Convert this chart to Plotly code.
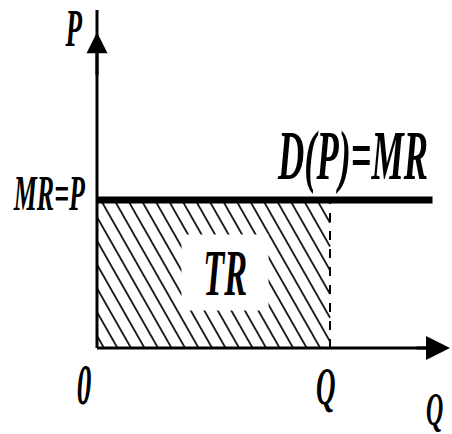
import numpy as np
import plotly.graph_objects as go

# ---- data (economic units) ----
price = 1.0          # MR = P level
quantity = 1.0       # Q sold
demand_end = 1.44    # right end of the horizontal demand line
x_axis_end = 1.515
y_axis_end = 2.284
hatch_step = 0.058   # spacing of TR hatching (in Q units)
hatch_run = 0.3616   # horizontal run of one hatch line across the full height

labels = ["P", "MR=P", "D(P)=MR", "TR", "0", "Q", "Q"]
label_x = [-0.099, -0.206, 1.099, 0.55, -0.056, 0.983, 1.449]
label_y = [2.162, 1.047, 1.304, 0.507, -0.25, -0.257, -0.415]
label_size = [52, 50, 70, 66, 56, 52, 46]

fig = go.Figure()

# hatch lines for TR area
hx, hy = [], []
c = -hatch_run + 0.03
while c < quantity:
    x_start, y_start = c, price
    if x_start < 0:
        y_start = price - (-x_start) / hatch_run * price
        x_start = 0.0
    x_end, y_end = c + hatch_run, 0.0
    if x_end > quantity:
        y_end = price - (quantity - c) / hatch_run * price
        x_end = quantity
    hx += [x_start, x_end, None]
    hy += [y_start, y_end, None]
    c += hatch_step
fig.add_trace(go.Scatter(x=hx, y=hy, mode="lines",
                         line=dict(color="#1a1a1a", width=1.8), hoverinfo="skip"))

# dashed Q line
fig.add_trace(go.Scatter(x=[quantity, quantity], y=[0, price], mode="lines",
                         line=dict(color="black", width=2, dash="dash"), hoverinfo="skip"))

# axes
fig.add_trace(go.Scatter(x=[0, x_axis_end - 0.05], y=[0, 0], mode="lines",
                         line=dict(color="black", width=3), hoverinfo="skip"))
fig.add_trace(go.Scatter(x=[0, 0], y=[0, y_axis_end], mode="lines",
                         line=dict(color="black", width=3), hoverinfo="skip"))

# demand = MR line
fig.add_trace(go.Scatter(x=[0, demand_end], y=[price, price], mode="lines",
                         line=dict(color="black", width=7), hoverinfo="skip"))

# arrowheads
fig.add_annotation(x=x_axis_end, y=0, ax=x_axis_end - 0.15, ay=0, axref="x", ayref="y",
                   xref="x", yref="y", text="", showarrow=True, arrowhead=2,
                   arrowsize=1.6, arrowwidth=3, arrowcolor="black")
fig.add_annotation(x=0, y=y_axis_end - 0.15, ax=0, ay=y_axis_end - 0.45, axref="x", ayref="y",
                   xref="x", yref="y", text="", showarrow=True, arrowhead=2,
                   arrowsize=1.4, arrowwidth=3, arrowcolor="black")

for t, x, y, s in zip(labels, label_x, label_y, label_size):
    fig.add_annotation(x=x, y=y, xref="x", yref="y", text=t, showarrow=False,
                       font=dict(family="Liberation Serif", size=s, color="black",
                                 weight="bold", style="italic"),
                       bgcolor="white" if t == "TR" else "rgba(0,0,0,0)",
                       xanchor="center", yanchor="middle")

x0 = -97 / 233
fig.update_layout(
    width=452, height=434,
    margin=dict(l=0, r=0, t=0, b=0),
    paper_bgcolor="white", plot_bgcolor="white",
    showlegend=False,
    xaxis=dict(range=[x0, x0 + 452 / 233], visible=False, fixedrange=True),
    yaxis=dict(range=[-(434 - 348) / 148, 348 / 148], visible=False, fixedrange=True),
)

post = """
document.body.style.margin='0';
var s=document.createElement('style');
s.textContent='body{margin:0;} .annotation-text{transform-box:fill-box;transform-origin:center;transform:scaleX(0.52);}';
document.head.appendChild(s);
"""
fig.write_html("out.html", post_script=post, config={"displayModeBar": False})
